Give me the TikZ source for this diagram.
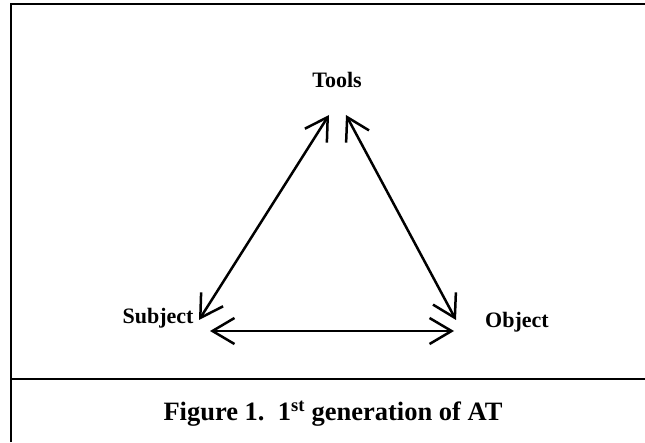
\documentclass[tikz,border=0pt]{standalone}
\usepackage{fontspec}
\setmainfont{Liberation Serif}
\usetikzlibrary{arrows.meta}

\tikzset{
    lbl/.style={font=\fontsize{22}{26}\selectfont\bfseries, inner sep=0pt},
    link/.style={line width=2.5pt, {Straight Barb[length=22pt,width=26pt]}-{Straight Barb[length=22pt,width=26pt]}},
    rule/.style={line width=2.4pt}
}

\begin{document}
\begin{tikzpicture}[x=1pt,y=1pt]
    \useasboundingbox (0,0) rectangle (645,442);

    % frame and caption rule
    \draw[rule] (11,0) -- (11,438) -- (87,438);
    \draw[line width=1.2pt] (87,438) -- (583,438);
    \draw[rule] (583,438) -- (645,438);
    \draw[rule] (11,63) -- (645,63);

    % the three corners
    \node[lbl] (tools) at (337,362) {Tools};
    \node[lbl] (subject) at (158,124) {Subject};
    \node[lbl] (object) at (517,120) {Object};

    % arrow ends near each corner
    \coordinate (toolsL) at (329,327);
    \coordinate (toolsR) at (346,327);
    \coordinate (subjUp) at (199,122);
    \coordinate (subjRt) at (210,111);
    \coordinate (objUp) at (456,122);
    \coordinate (objLt) at (454,111);

    \draw[link] (subjUp) -- (toolsL);
    \draw[link] (toolsR) -- (objUp);
    \draw[link] (subjRt) -- (objLt);

    % caption
    \node[font=\fontsize{26.5}{31}\selectfont\bfseries] (caption) at (333,28) {Figure 1.\ \ 1\textsuperscript{st} generation of AT};
\end{tikzpicture}
\end{document}
